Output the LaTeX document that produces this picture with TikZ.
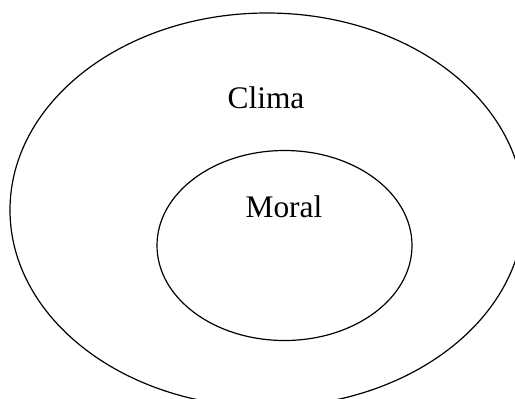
\documentclass[tikz,border=0pt]{standalone}
\usepackage{fontspec}
\setmainfont{Liberation Serif}
\usetikzlibrary{shapes.geometric}

\begin{document}
\begin{tikzpicture}[x=0.5pt,y=-0.5pt,
    ring/.style={draw,ellipse,line width=0.6pt,inner sep=0pt},
    lbl/.style={anchor=base,inner sep=0pt,font=\fontsize{15.7}{18}\selectfont}]
  \useasboundingbox (0,0) rectangle (515,398);
  \node[ring,minimum width=257pt,minimum height=197pt] (outer) at (267,210) {};
  \node[ring,minimum width=127.5pt,minimum height=95pt] (inner) at (284.5,245.5) {};
  \node[lbl] (clima) at (266,108) {Clima};
  \node[lbl] (moral) at (284,217) {Moral};
\end{tikzpicture}
\end{document}
